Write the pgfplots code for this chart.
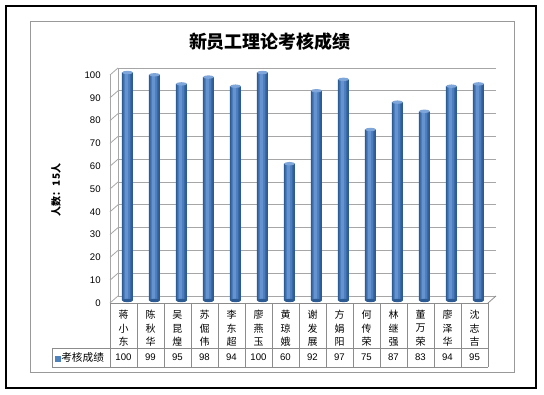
\documentclass[border=0pt]{standalone}
\usepackage{fontspec}
\setmainfont{Liberation Sans}
\newfontfamily\cjk{Noto Sans CJK SC}
\usepackage{pgfplots}
\usepackage{pgfplotstable}
\pgfplotsset{compat=1.18}
\definecolor{barA}{HTML}{2C5A93}
\definecolor{barB}{HTML}{3A6AA8}
\definecolor{barC}{HTML}{4C7DBD}
\definecolor{barD}{HTML}{6593D0}
\definecolor{barcap}{HTML}{7FA6DA}
\definecolor{legblue}{HTML}{4F81BD}
\definecolor{gridgray}{HTML}{A6A6A6}
\definecolor{tabgray}{HTML}{8C8C8C}
\pgfdeclareplotmark{captop}{%
  \pgfpathellipse{\pgfpointorigin}{\pgfpoint{4.1pt}{0pt}}{\pgfpoint{0pt}{1.3pt}}%
  \pgfusepathqfill}
\pgfplotstableread{
x score
1 100
2 99
3 95
4 98
5 94
6 100
7 60
8 92
9 97
10 75
11 87
12 83
13 94
14 95
}\scores
\begin{document}
\begin{tikzpicture}
\path[use as bounding box] (0,0) rectangle (408pt,-296.25pt);
% frames
\begin{scope}[x=0.75pt,y=-0.75pt]
\draw[line width=1.6pt,black] (6,6) rectangle (536,388);
\draw[line width=0.6pt,gray!80] (30,21) rectangle (514,372);
\end{scope}
% back wall
\begin{axis}[
  at={(88.5pt,-222pt)}, anchor=south west,
  scale only axis, width=283.5pt, height=171pt,
  xmin=0.5, xmax=14.5, ymin=0, ymax=100,
  axis line style={draw=none},
  ytick={0,10,...,100}, xtick=\empty, yticklabels={},
  major tick length=0pt,
  ymajorgrids, grid style={gridgray, line width=0.6pt},
]
\draw[gridgray, line width=0.6pt] (axis cs:0.5,0) -- (axis cs:0.5,100);
\end{axis}
% front axis with tick labels and left wall diagonals
\begin{axis}[
  at={(82.5pt,-227.25pt)}, anchor=south west,
  scale only axis, width=283.5pt, height=171pt,
  xmin=0.5, xmax=14.5, ymin=0, ymax=100,
  axis x line=none, axis y line*=left,
  axis line style={gridgray, line width=0.6pt, -},
  ytick={0,10,...,100}, xtick=\empty,
  major tick length=0pt,
  yticklabel style={font=\fontsize{7.2}{8}\selectfont, xshift=-3.5pt},
  /pgf/number format/assume math mode=true,
  clip=false,
]
\pgfplotsinvokeforeach{0,10,...,100}{
  \draw[gridgray, line width=0.6pt] (axis cs:0.5,#1) -- ++(6pt,5.25pt);
}
\draw[tabgray, line width=0.6pt] (axis cs:14.5,0) -- ++(6pt,5.25pt);
\draw[gridgray, line width=0.6pt] (axis cs:0.5,0) -- (axis cs:14.5,0);
\end{axis}
% bars
\begin{axis}[
  at={(85.5pt,-225.375pt)}, anchor=south west,
  scale only axis, width=283.5pt, height=171pt,
  xmin=0.5, xmax=14.5, ymin=0, ymax=100,
  axis lines=none, clip=false,
]
\addplot[only marks, mark=captop, mark options={fill=barA}]
  table[x=x, y expr=0] {\scores};
\addplot[ybar, bar width=8.25pt, draw=none, fill=barA] table[x=x, y=score] {\scores};
\addplot[ybar, bar width=6.4pt, bar shift=-0.3pt, draw=none, fill=barB] table[x=x, y=score] {\scores};
\addplot[ybar, bar width=4.4pt, bar shift=-0.5pt, draw=none, fill=barC] table[x=x, y=score] {\scores};
\addplot[ybar, bar width=2.2pt, bar shift=-0.7pt, draw=none, fill=barD] table[x=x, y=score] {\scores};
\addplot[only marks, mark=captop, mark options={fill=barcap}]
  table[x=x, y=score] {\scores};
\end{axis}
% data table
\begin{scope}[x=0.75pt,y=-0.75pt]
\draw[tabgray, line width=0.6pt] (110,303) -- (488,303);
\draw[tabgray, line width=0.6pt] (52,348) -- (488,348);
\draw[tabgray, line width=0.6pt] (52,367) -- (488,367);
\draw[tabgray, line width=0.6pt] (52,348) -- (52,367);
\foreach \k in {0,...,14} {
  \draw[tabgray, line width=0.6pt] ({110+27*\k},303) -- ({110+27*\k},367);
}
\node[anchor=west, inner sep=0pt, font=\cjk\fontsize{8}{9}\selectfont] at (55,357.5)
  {\textcolor{legblue}{\rule{4.5pt}{4.5pt}}考核成绩};
\foreach \i/\a/\b/\c/\v in {1/蒋/小/东/100, 2/陈/秋/华/99, 3/吴/昆/煌/95, 4/苏/倔/伟/98,
  5/李/东/超/94, 6/廖/燕/玉/100, 7/黄/琼/娥/60, 8/谢/发/展/92, 9/方/娟/阳/97,
  10/何/传/荣/75, 11/林/继/强/87, 12/董/万/荣/83, 13/廖/泽/华/94, 14/沈/志/吉/95} {
  \node[font=\cjk\fontsize{7.5}{8}\selectfont, inner sep=0pt] at ({110+27*(\i-0.5)},315) {\a};
  \node[font=\cjk\fontsize{7.5}{8}\selectfont, inner sep=0pt] at ({110+27*(\i-0.5)},328.5) {\b};
  \node[font=\cjk\fontsize{7.5}{8}\selectfont, inner sep=0pt] at ({110+27*(\i-0.5)},342) {\c};
  \node[font=\fontsize{7.2}{8}\selectfont, inner sep=0pt] at ({110+27*(\i-0.5)},357.5) {\v};
}
% title and y label
\node[font=\cjk\bfseries\fontsize{13.5}{15}\selectfont] at (270,42) {新员工理论考核成绩};
\node[font=\cjk\bfseries\fontsize{7.5}{9}\selectfont, rotate=90] at (56,190) {人数：15人};
\end{scope}
\end{tikzpicture}
\end{document}
